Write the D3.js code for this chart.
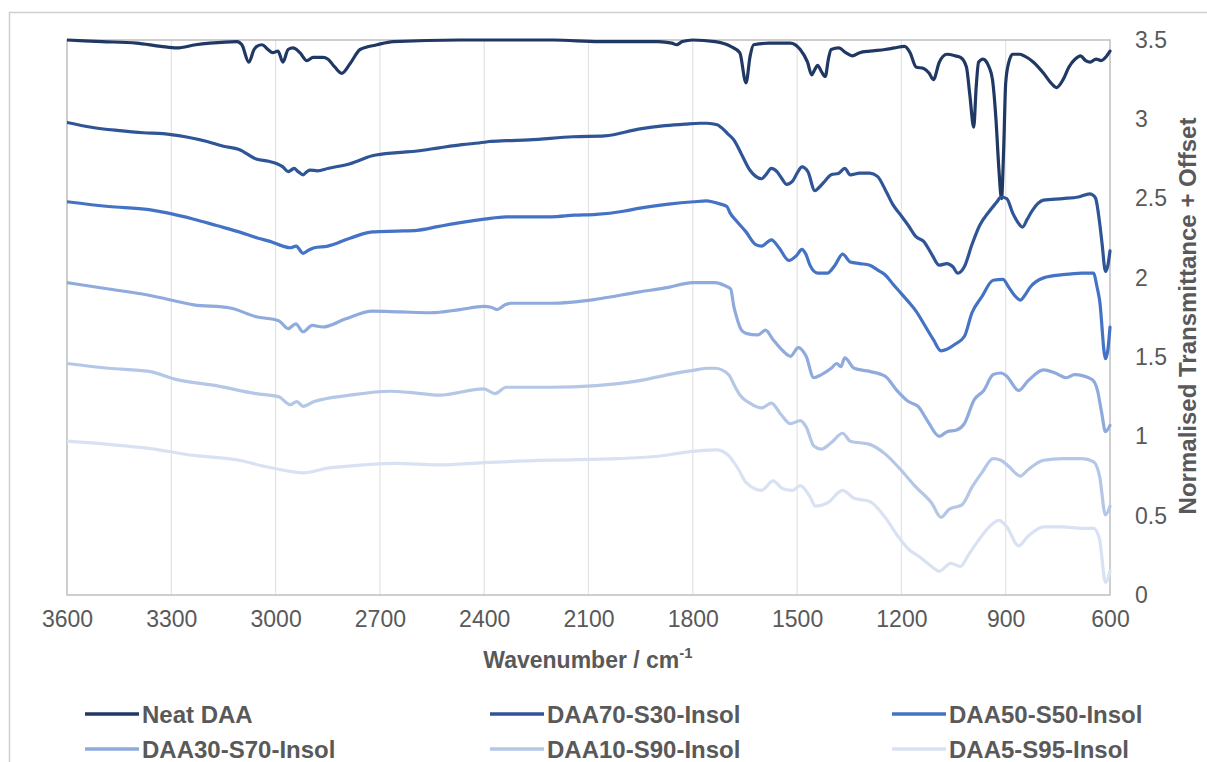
<!DOCTYPE html>
<html>
<head>
<meta charset="utf-8">
<script src="https://cdn.jsdelivr.net/npm/d3@7"></script>
<style>
  html, body { margin: 0; padding: 0; background: #ffffff; }
  svg { display: block; }
  text { font-family: "Liberation Sans", Arial, sans-serif; }
</style>
</head>
<body>
<svg id="chart" width="1207" height="762"></svg>
<script>
// ---------------- DATA ----------------
const seriesNames = ["Neat DAA", "DAA70-S30-Insol", "DAA50-S50-Insol", "DAA30-S70-Insol", "DAA10-S90-Insol", "DAA5-S95-Insol"];
const seriesColors = ["#203864", "#2f5597", "#4472c4", "#8faadc", "#b4c7e7", "#d9e2f3"];
const xTicks = [3600, 3300, 3000, 2700, 2400, 2100, 1800, 1500, 1200, 900, 600];
const yTicks = [0, 0.5, 1, 1.5, 2, 2.5, 3, 3.5];
const xTitle = "Wavenumber / cm";
const xTitleSup = "-1";
const yTitle = "Normalised Transmittance + Offset";

// [wavenumber (cm-1), normalised transmittance + offset]
const neatDAA = [[3600,3.50],[3500,3.49],[3400,3.48],[3330,3.46],[3284,3.45],[3230,3.47],[3189,3.48],[3111,3.49],[3097,3.47],[3077,3.36],[3062,3.44],[3054,3.46],[3039,3.47],[3022,3.44],[3008,3.42],[2993,3.43],[2979,3.36],[2964,3.44],[2950,3.45],[2930,3.42],[2910,3.37],[2892,3.39],[2864,3.39],[2850,3.38],[2830,3.33],[2810,3.29],[2786,3.35],[2757,3.44],[2708,3.47],[2662,3.49],[2470,3.50],[2200,3.50],[2069,3.49],[1900,3.49],[1860,3.48],[1847,3.47],[1830,3.49],[1800,3.50],[1736,3.49],[1691,3.46],[1665,3.42],[1647,3.23],[1635,3.40],[1625,3.47],[1580,3.48],[1520,3.48],[1491,3.44],[1470,3.36],[1458,3.28],[1450,3.31],[1441,3.34],[1430,3.30],[1419,3.27],[1410,3.38],[1402,3.44],[1380,3.45],[1360,3.42],[1341,3.40],[1320,3.42],[1291,3.43],[1247,3.44],[1220,3.45],[1191,3.46],[1175,3.42],[1158,3.33],[1136,3.32],[1120,3.29],[1108,3.25],[1091,3.36],[1069,3.41],[1045,3.40],[1030,3.39],[1013,3.33],[1003,3.15],[992,2.95],[985,3.20],[978,3.36],[965,3.38],[958,3.37],[948,3.33],[938,3.25],[928,3.00],[920,2.70],[912,2.50],[906,2.80],[900,3.23],[891,3.36],[880,3.41],[860,3.41],[847,3.40],[820,3.36],[791,3.29],[770,3.23],[754,3.20],[735,3.25],[718,3.33],[700,3.38],[685,3.40],[670,3.37],[657,3.36],[640,3.38],[625,3.37],[613,3.39],[600,3.43]];

const daa70 = [[3600,2.98],[3530,2.95],[3456,2.93],[3380,2.915],[3324,2.91],[3260,2.89],[3197,2.86],[3150,2.83],[3105,2.81],[3056,2.75],[3020,2.735],[2996,2.72],[2979,2.70],[2964,2.67],[2955,2.68],[2947,2.69],[2935,2.67],[2921,2.65],[2910,2.67],[2901,2.68],[2880,2.675],[2850,2.69],[2786,2.72],[2722,2.77],[2650,2.79],[2593,2.80],[2530,2.82],[2464,2.84],[2400,2.855],[2386,2.86],[2337,2.865],[2271,2.87],[2145,2.89],[2053,2.895],[1952,2.94],[1880,2.96],[1822,2.97],[1780,2.975],[1759,2.975],[1730,2.965],[1719,2.95],[1700,2.91],[1682,2.87],[1660,2.78],[1636,2.68],[1619,2.64],[1602,2.625],[1590,2.65],[1574,2.69],[1558,2.67],[1545,2.63],[1530,2.59],[1513,2.61],[1500,2.66],[1486,2.70],[1469,2.67],[1449,2.55],[1437,2.57],[1424,2.60],[1402,2.65],[1380,2.66],[1363,2.69],[1347,2.65],[1320,2.66],[1291,2.66],[1269,2.64],[1245,2.55],[1224,2.46],[1200,2.39],[1180,2.33],[1158,2.26],[1136,2.23],[1113,2.15],[1091,2.08],[1069,2.09],[1052,2.07],[1038,2.03],[1019,2.07],[997,2.21],[975,2.33],[947,2.42],[925,2.48],[914,2.51],[897,2.50],[880,2.41],[865,2.35],[852,2.32],[838,2.37],[825,2.42],[791,2.49],[736,2.50],[691,2.51],[658,2.53],[648,2.52],[641,2.50],[630,2.35],[623,2.22],[613,2.04],[606,2.08],[600,2.17]];

const daa50 = [[3600,2.48],[3480,2.45],[3364,2.43],[3312,2.41],[3235,2.37],[3170,2.33],[3105,2.29],[3050,2.25],[3016,2.23],[2979,2.20],[2958,2.19],[2941,2.20],[2921,2.155],[2905,2.175],[2889,2.19],[2850,2.20],[2786,2.25],[2722,2.29],[2650,2.295],[2593,2.30],[2530,2.325],[2464,2.35],[2400,2.37],[2337,2.385],[2208,2.385],[2140,2.395],[2078,2.40],[2000,2.42],[1952,2.44],[1870,2.465],[1797,2.48],[1760,2.485],[1745,2.48],[1720,2.465],[1702,2.45],[1693,2.41],[1675,2.36],[1647,2.29],[1619,2.21],[1602,2.20],[1574,2.24],[1552,2.19],[1524,2.11],[1502,2.14],[1486,2.18],[1475,2.15],[1463,2.08],[1441,2.03],[1413,2.03],[1391,2.08],[1369,2.15],[1347,2.10],[1320,2.09],[1291,2.08],[1269,2.05],[1247,2.02],[1224,1.96],[1202,1.905],[1180,1.85],[1158,1.79],[1130,1.69],[1108,1.61],[1086,1.54],[1069,1.55],[1047,1.58],[1019,1.63],[997,1.78],[969,1.88],[936,1.985],[908,1.99],[891,1.94],[875,1.89],[858,1.86],[845,1.89],[830,1.94],[791,2.00],[736,2.02],[680,2.03],[647,2.03],[638,1.95],[630,1.86],[613,1.49],[606,1.55],[600,1.69]];

const daa30 = [[3600,1.97],[3480,1.93],[3364,1.89],[3235,1.83],[3131,1.81],[3056,1.755],[2991,1.73],[2964,1.68],[2942,1.71],[2921,1.66],[2895,1.70],[2864,1.69],[2800,1.74],[2722,1.79],[2640,1.785],[2553,1.78],[2470,1.80],[2401,1.82],[2380,1.815],[2363,1.80],[2340,1.83],[2323,1.84],[2208,1.84],[2078,1.865],[1958,1.91],[1870,1.94],[1800,1.97],[1771,1.97],[1736,1.97],[1707,1.95],[1691,1.93],[1682,1.82],[1675,1.76],[1660,1.67],[1647,1.65],[1613,1.64],[1591,1.67],[1569,1.61],[1541,1.54],[1519,1.505],[1497,1.56],[1474,1.505],[1452,1.37],[1430,1.39],[1402,1.43],[1386,1.46],[1374,1.44],[1363,1.495],[1336,1.43],[1291,1.41],[1247,1.38],[1213,1.29],[1180,1.22],[1152,1.19],[1124,1.095],[1091,1.00],[1069,1.03],[1041,1.04],[1019,1.08],[991,1.23],[963,1.29],[936,1.39],[914,1.40],[897,1.38],[863,1.29],[836,1.35],[791,1.42],[758,1.40],[725,1.37],[702,1.39],[652,1.36],[636,1.29],[624,1.15],[613,1.03],[600,1.07]];

const daa10 = [[3600,1.46],[3480,1.43],[3364,1.41],[3287,1.36],[3171,1.32],[3056,1.27],[2991,1.25],[2958,1.20],[2939,1.22],[2921,1.19],[2889,1.22],[2786,1.26],[2671,1.285],[2600,1.275],[2530,1.26],[2401,1.30],[2369,1.27],[2337,1.31],[2208,1.31],[2078,1.32],[1958,1.35],[1870,1.39],[1791,1.42],[1759,1.43],[1736,1.43],[1697,1.39],[1680,1.32],[1664,1.26],[1636,1.21],[1602,1.18],[1574,1.21],[1547,1.14],[1519,1.08],[1491,1.10],[1474,1.06],[1452,0.94],[1430,0.92],[1402,0.96],[1369,1.02],[1347,0.97],[1291,0.95],[1247,0.89],[1202,0.79],[1158,0.68],[1113,0.58],[1086,0.49],[1063,0.54],[1025,0.57],[997,0.68],[969,0.77],[936,0.86],[914,0.85],[891,0.81],[858,0.75],[836,0.79],[791,0.85],[736,0.86],[680,0.86],[647,0.84],[630,0.75],[613,0.505],[600,0.56]];

const daa5 = [[3600,0.97],[3480,0.95],[3364,0.925],[3235,0.88],[3105,0.85],[3030,0.81],[2958,0.78],[2921,0.77],[2850,0.80],[2750,0.82],[2657,0.83],[2530,0.82],[2401,0.835],[2208,0.85],[2015,0.86],[1900,0.875],[1822,0.90],[1733,0.915],[1697,0.88],[1680,0.83],[1668,0.79],[1647,0.71],[1602,0.66],[1569,0.72],[1541,0.67],[1513,0.66],[1491,0.69],[1463,0.62],[1447,0.56],[1413,0.58],[1369,0.66],[1336,0.61],[1291,0.59],[1247,0.49],[1213,0.38],[1180,0.29],[1147,0.24],[1113,0.18],[1091,0.15],[1058,0.20],[1030,0.18],[1008,0.25],[980,0.34],[947,0.43],[919,0.47],[897,0.43],[863,0.31],[836,0.37],[791,0.43],[736,0.43],[680,0.42],[647,0.42],[630,0.35],[613,0.08],[600,0.15]];

const allSeries = [neatDAA, daa70, daa50, daa30, daa10, daa5];

// ---------------- LAYOUT ----------------
const W = 1207, H = 762;
const plot = { left: 67, right: 1110, top: 40, bottom: 595 };
const textGray = "#595959";

const svg = d3.select("#chart");
svg.append("rect").attr("width", W).attr("height", H).attr("fill", "#ffffff");

// outer chart frame (cropped on right and bottom)
svg.append("rect")
  .attr("x", 9.5).attr("y", 12.5).attr("width", 1400).attr("height", 900)
  .attr("fill", "none").attr("stroke", "#d0d0d0").attr("stroke-width", 1.5);

const x = d3.scaleLinear().domain([3600, 600]).range([plot.left, plot.right]);
const y = d3.scaleLinear().domain([0, 3.5]).range([plot.bottom, plot.top]);

// vertical gridlines
svg.append("g").selectAll("line").data(xTicks.slice(1, -1)).join("line")
  .attr("x1", d => x(d)).attr("x2", d => x(d))
  .attr("y1", plot.top).attr("y2", plot.bottom)
  .attr("stroke", "#e3e3e3").attr("stroke-width", 1.2);

// plot area border
svg.append("rect")
  .attr("x", plot.left).attr("y", plot.top)
  .attr("width", plot.right - plot.left).attr("height", plot.bottom - plot.top)
  .attr("fill", "none").attr("stroke", "#bfbfbf").attr("stroke-width", 1.5);

// x axis
const xAxis = svg.append("g").attr("transform", `translate(0,${plot.bottom})`)
  .call(d3.axisBottom(x).tickValues(xTicks).tickSize(0).tickPadding(16).tickFormat(d3.format("d")));
xAxis.select(".domain").remove();
xAxis.selectAll("text").attr("fill", textGray).style("font-size", "23px");

// y axis (right)
const yAxis = svg.append("g").attr("transform", `translate(${plot.right},0)`)
  .call(d3.axisRight(y).tickValues(yTicks).tickSize(0).tickPadding(25).tickFormat(d => String(d)));
yAxis.select(".domain").remove();
yAxis.selectAll("text").attr("fill", textGray).style("font-size", "23px");

// axis titles
const xt = svg.append("text")
  .attr("x", 588).attr("y", 668).attr("text-anchor", "middle")
  .attr("fill", textGray).style("font-size", "23px").style("font-weight", "bold");
xt.append("tspan").text(xTitle);
xt.append("tspan").attr("dy", -10).style("font-size", "15px").text(xTitleSup);

svg.append("text")
  .attr("transform", "translate(1196,316) rotate(-90)")
  .attr("text-anchor", "middle")
  .attr("fill", textGray).style("font-size", "24px").style("font-weight", "bold")
  .text(yTitle);

// series lines
const line = d3.line()
  .x(d => x(d[0])).y(d => y(d[1]))
  .curve(d3.curveMonotoneX);

svg.append("clipPath").attr("id", "plotclip").append("rect")
  .attr("x", plot.left).attr("y", plot.top - 4)
  .attr("width", plot.right - plot.left + 2).attr("height", plot.bottom - plot.top + 8);

const gLines = svg.append("g").attr("clip-path", "url(#plotclip)");
allSeries.forEach((s, i) => {
  gLines.append("path")
    .datum(s)
    .attr("d", line)
    .attr("fill", "none")
    .attr("stroke", seriesColors[i])
    .attr("stroke-width", 3.2)
    .attr("stroke-linejoin", "round")
    .attr("stroke-linecap", "round");
});

// legend
const legendCols = [85, 490, 892];
const legendRows = [714, 749];
const legend = svg.append("g");
seriesNames.forEach((name, i) => {
  const cx = legendCols[i % 3];
  const cy = legendRows[Math.floor(i / 3)];
  legend.append("line")
    .attr("x1", cx).attr("x2", cx + 54)
    .attr("y1", cy).attr("y2", cy)
    .attr("stroke", seriesColors[i]).attr("stroke-width", 3.5);
  legend.append("text")
    .attr("x", cx + 57).attr("y", cy + 9)
    .attr("fill", textGray).style("font-size", "24px").style("font-weight", "bold")
    .text(name);
});
</script>
</body>
</html>
